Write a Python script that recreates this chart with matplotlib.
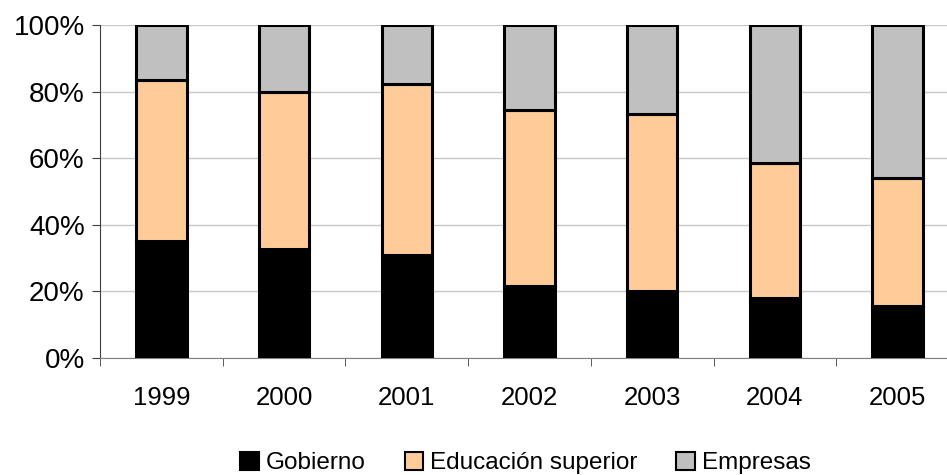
import matplotlib
matplotlib.use('Agg')
import matplotlib.pyplot as plt
from matplotlib.patches import Patch
import numpy as np

plt.rcParams['font.family'] = ['Liberation Sans', 'DejaVu Sans']

years = ["1999", "2000", "2001", "2002", "2003", "2004", "2005"]
gobierno = [35.1, 32.7, 30.8, 21.7, 20.2, 17.9, 15.7]
educacion = [48.4, 47.3, 51.5, 52.7, 53.0, 40.8, 38.3]
empresas = [16.5, 20.0, 17.7, 25.6, 26.8, 41.3, 46.0]

series = [("Gobierno", gobierno, "#000000"),
          ("Educación superior", educacion, "#FFCC99"),
          ("Empresas", empresas, "#C0C0C0")]

fig = plt.figure(figsize=(9.47, 4.75), dpi=100)
ax = fig.add_axes([100 / 947, 117 / 475, 859 / 947, 333 / 475])

x = np.arange(len(years))
bottom = np.zeros(len(years))
for name, vals, col in series:
    ax.bar(x, vals, 0.41, bottom=bottom, color=col, edgecolor="black",
           linewidth=2.2, zorder=3, label=name)
    bottom += np.array(vals)

ax.set_xlim(-0.5, len(years) - 0.5)
ax.set_ylim(0, 100)
ax.set_yticks([0, 20, 40, 60, 80, 100])
ax.set_yticklabels([f"{v}%" for v in range(0, 101, 20)], fontsize=20)
ax.set_xticks(x)
ax.set_xticklabels(years, fontsize=18.5)
ax.set_xticks(np.arange(-0.5, len(years), 1), minor=True)
ax.tick_params(axis="x", which="major", length=0, pad=20)
ax.tick_params(axis="x", which="minor", length=6, color="#404040")
ax.tick_params(axis="y", length=6, color="#404040", pad=5)
ax.grid(axis="y", color="#C8C8C8", linewidth=1, zorder=0)

for s in ["top", "right"]:
    ax.spines[s].set_visible(False)
ax.spines["left"].set_color("#404040")
ax.spines["bottom"].set_color("#808080")

handles = [Patch(facecolor=c, edgecolor="black", linewidth=1.5, label=n) for n, _, c in series]
fig.legend(handles=handles, loc="center", bbox_to_anchor=(0.555, 0.025), ncol=3,
           frameon=False, fontsize=17.5, handlelength=0.75, handleheight=0.75,
           handletextpad=0.3, columnspacing=1.6)

fig.savefig("out.png", dpi=100, facecolor="white")
plt.close(fig)
